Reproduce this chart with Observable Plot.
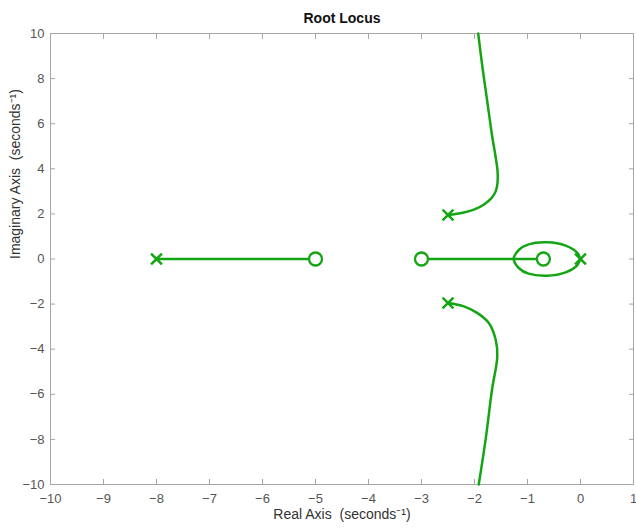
<!DOCTYPE html>
<html>
<head>
<meta charset="utf-8">
<script src="https://cdn.jsdelivr.net/npm/d3@7"></script>
<script src="https://cdn.jsdelivr.net/npm/@observablehq/plot@0.6"></script>
<style>
  html, body { margin: 0; padding: 0; background: #fff; }
</style>
</head>
<body>
<div id="chart"></div>
<script>
// ---- data ----
const title = "Root Locus";
const xLabel = "Real Axis  (seconds\u207B\u00B9)";
const yLabel = "Imaginary Axis  (seconds\u207B\u00B9)";
const xTicks = [-10, -9, -8, -7, -6, -5, -4, -3, -2, -1, 0, 1];
const yTicks = [-10, -8, -6, -4, -2, 0, 2, 4, 6, 8, 10];

const poleRe = [-8, 0, -2.5, -2.5];
const poleIm = [0, 0, 1.95, -1.95];
const zeroRe = [-5, -3, -0.7];
const zeroIm = [0, 0, 0];

const seg1Re = [-8, -5];
const seg1Im = [0, 0];
const seg2Re = [-3, -0.7];
const seg2Im = [0, 0];

const upperRe = [-2.5, -2.22, -2.0, -1.82, -1.68, -1.6, -1.565, -1.565, -1.6, -1.67, -1.76, -1.85, -1.93];
const upperIm = [1.95, 2.05, 2.2, 2.42, 2.7, 3.0, 3.4, 3.9, 4.5, 5.5, 7.0, 8.5, 10];

const lowerRe = [-2.5, -2.2, -1.95, -1.73, -1.6, -1.57, -1.67, -1.79, -1.92];
const lowerIm = [-1.95, -2.1, -2.39, -2.84, -3.58, -4.32, -5.8, -8.0, -10];

const loopRe = [-1.26, -1.16, -0.98, -0.63, -0.28, -0.06, -0.01, -0.06, -0.28, -0.63, -0.98, -1.16];
const loopIm = [0, 0.41, 0.65, 0.74, 0.59, 0.27, 0, -0.27, -0.59, -0.74, -0.65, -0.41];

// ---- build tables ----
const toRows = (re, im, id) => re.map((r, i) => ({re: r, im: im[i], id}));
const openBranches = [
  ...toRows(seg1Re, seg1Im, "s1"),
  ...toRows(seg2Re, seg2Im, "s2"),
];
const curved = [
  ...toRows(upperRe, upperIm, "up"),
  ...toRows(lowerRe, lowerIm, "lo"),
];
const loop = toRows(loopRe, loopIm, "loop");
const poles = toRows(poleRe, poleIm, "p");
const zeros = toRows(zeroRe, zeroIm, "z");

const green = "#14a514";
const axisGrey = "#a6a6a6";
const textGrey = "#555555";

const chart = Plot.plot({
  width: 636,
  height: 529,
  marginTop: 33,
  marginLeft: 50,
  marginRight: 3,
  marginBottom: 45,
  style: {fontFamily: "'Liberation Sans', Arial, sans-serif", fontSize: "13px", background: "#fff"},
  x: {domain: [-10, 1]},
  y: {domain: [-10, 10]},
  marks: [
    Plot.frame({stroke: axisGrey}),
    Plot.axisX(xTicks, {anchor: "bottom", tickSize: -5, tickPadding: 14, stroke: axisGrey, fill: textGrey, fontSize: 13, label: null}),
    Plot.axisX(xTicks, {anchor: "top", tickSize: -5, tickFormat: () => "", stroke: axisGrey, label: null}),
    Plot.axisY(yTicks, {anchor: "left", tickSize: -5, tickPadding: 11, stroke: axisGrey, fill: textGrey, fontSize: 13, label: null}),
    Plot.axisY(yTicks, {anchor: "right", tickSize: -5, tickFormat: () => "", stroke: axisGrey, label: null}),
    Plot.line(openBranches, {x: "re", y: "im", z: "id", stroke: green, strokeWidth: 2.5}),
    Plot.line(curved, {x: "re", y: "im", z: "id", stroke: green, strokeWidth: 2.5, curve: "catmull-rom"}),
    Plot.line(loop, {x: "re", y: "im", stroke: green, strokeWidth: 2.5, curve: "catmull-rom-closed"}),
    Plot.dot(zeros, {x: "re", y: "im", r: 6.5, stroke: green, strokeWidth: 2.3, fill: "white", symbol: "circle"}),
    Plot.dot(poles, {x: "re", y: "im", r: 5, stroke: green, strokeWidth: 2.5, symbol: "times"}),
    Plot.text([title], {frameAnchor: "top", dy: -20, text: d => d, fontWeight: "bold", fontSize: 14, fill: "#111"}),
    Plot.text([xLabel], {frameAnchor: "bottom", dy: 34, text: d => d, fontSize: 14, fill: "#333"}),
    Plot.text([yLabel], {frameAnchor: "left", dx: -35, rotate: -90, text: d => d, fontSize: 14, fill: "#333"})
  ]
});
document.getElementById("chart").appendChild(chart);
</script>
</body>
</html>
